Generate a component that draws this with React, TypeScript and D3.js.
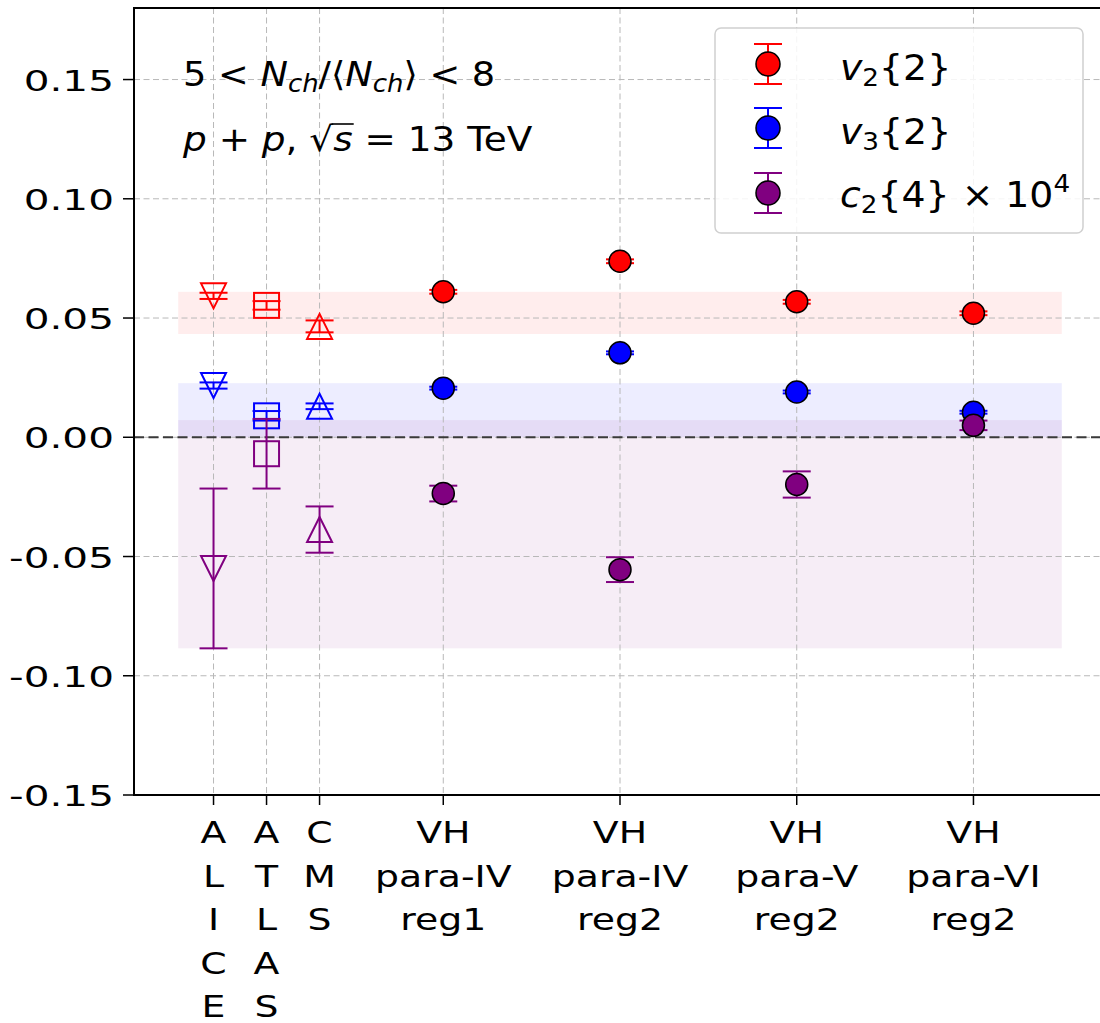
import React, { useLayoutEffect, useRef, useState } from "react";
import * as d3 from "d3";

// ---------- data ----------
const categoryLines: string[][] = [
  ["A", "L", "I", "C", "E"],
  ["A", "T", "L", "A", "S"],
  ["C", "M", "S"],
  ["VH", "para-IV", "reg1"],
  ["VH", "para-IV", "reg2"],
  ["VH", "para-V", "reg2"],
  ["VH", "para-VI", "reg2"],
];
const categoryX = [0, 0.3, 0.6, 1.3, 2.3, 3.3, 4.3];

const expX = [0, 0.3, 0.6];
const expMarkers = ["tri-down", "square", "tri-up"];
const expV2 = [0.0593, 0.0553, 0.0465];
const expV2Err = [0.0013, 0.0018, 0.0025];
const expV3 = [0.0217, 0.009, 0.013];
const expV3Err = [0.0013, 0.002, 0.0012];
const expC2 = [-0.055, -0.0069, -0.0387];
const expC2Err = [0.0335, 0.0146, 0.0097];

const vhX = [1.3, 2.3, 3.3, 4.3];
const vhV2 = [0.061, 0.0738, 0.0568, 0.052];
const vhV2Err = [0.0008, 0.0008, 0.0008, 0.0008];
const vhV3 = [0.0206, 0.0354, 0.019, 0.0105];
const vhV3Err = [0.0006, 0.0006, 0.0006, 0.0006];
const vhC2 = [-0.0236, -0.0555, -0.0198, 0.005];
const vhC2Err = [0.0033, 0.0052, 0.0055, 0.002];

const bandX = [-0.2, 4.8];
const bandV2 = [0.0433, 0.061];
const bandV3 = [0.0, 0.0227];
const bandC2 = [-0.0885, 0.0072];

const yTicks = [-0.15, -0.1, -0.05, 0.0, 0.05, 0.1, 0.15];

const seriesColors = { v2: "#ff0000", v3: "#0000ff", c2: "#800080" };

// ---------- layout ----------
const W = 1100;
const H = 1023;
const left = 134;
const top = 8;
const bottom = 795;
const right = 1106;

const x = d3.scaleLinear().domain([-0.45, 5.05]).range([left, right]);
const y = d3.scaleLinear().domain([-0.15, 0.18]).range([bottom, top]);
const fmt = d3
  .formatLocale({ decimal: ".", thousands: ",", grouping: [3], currency: ["", ""], minus: "-" })
  .format(".2f");

const FONT = "DejaVu Sans, sans-serif";

function Marker({ kind, cx, cy, color }: { kind: string; cx: number; cy: number; color: string }) {
  const s = 12.5;
  if (kind === "square") {
    return <rect x={cx - s} y={cy - s} width={2 * s} height={2 * s} fill="none" stroke={color} strokeWidth={2} />;
  }
  const p = d3.path();
  if (kind === "tri-down") {
    p.moveTo(cx - s, cy - s);
    p.lineTo(cx + s, cy - s);
    p.lineTo(cx, cy + s);
  } else {
    p.moveTo(cx, cy - s);
    p.lineTo(cx + s, cy + s);
    p.lineTo(cx - s, cy + s);
  }
  p.closePath();
  return <path d={p.toString()} fill="none" stroke={color} strokeWidth={2} strokeLinejoin="miter" />;
}

function ErrBar({ cx, v, e, color, cap = 14 }: { cx: number; v: number; e: number; color: string; cap?: number }) {
  const y1 = y(v - e);
  const y2 = y(v + e);
  return (
    <g stroke={color} strokeWidth={2}>
      <line x1={cx} x2={cx} y1={y1} y2={y2} />
      <line x1={cx - cap} x2={cx + cap} y1={y1} y2={y1} />
      <line x1={cx - cap} x2={cx + cap} y1={y2} y2={y2} />
    </g>
  );
}

export default function App() {
  const svgRef = useRef<SVGSVGElement>(null);
  const radRef = useRef<SVGTSpanElement>(null);
  const sRef = useRef<SVGTSpanElement>(null);
  const [bar, setBar] = useState<{ x1: number; x2: number } | null>(null);

  useLayoutEffect(() => {
    const measure = () => {
      if (!svgRef.current || !radRef.current || !sRef.current) return;
      const sv = svgRef.current.getBoundingClientRect();
      const r = radRef.current.getBoundingClientRect();
      const s = sRef.current.getBoundingClientRect();
      setBar({ x1: r.right - sv.left - 2, x2: s.right - sv.left + 1 });
    };
    measure();
    if ((document as any).fonts && (document as any).fonts.ready) {
      (document as any).fonts.ready.then(measure);
    }
  }, []);

  const series = [
    { key: "v2", vals: expV2, errs: expV2Err, mv: vhV2, me: vhV2Err },
    { key: "v3", vals: expV3, errs: expV3Err, mv: vhV3, me: vhV3Err },
    { key: "c2", vals: expC2, errs: expC2Err, mv: vhC2, me: vhC2Err },
  ] as const;

  const legendRows = [
    { key: "v2", my: 64 },
    { key: "v3", my: 128 },
    { key: "c2", my: 193 },
  ];

  return (
    <svg
      ref={svgRef}
      width={W}
      height={H}
      style={{ position: "absolute", left: 0, top: 0, background: "#fff" }}
      fontFamily={FONT}
    >
      <rect x={0} y={0} width={W} height={H} fill="#fff" />
      {/* bands */}
      {[
        { b: bandV2, c: seriesColors.v2 },
        { b: bandV3, c: seriesColors.v3 },
        { b: bandC2, c: seriesColors.c2 },
      ].map((d, i) => (
        <rect
          key={i}
          x={x(bandX[0])}
          width={x(bandX[1]) - x(bandX[0])}
          y={y(d.b[1])}
          height={y(d.b[0]) - y(d.b[1])}
          fill={d.c}
          fillOpacity={0.07}
        />
      ))}
      {/* grid */}
      <g stroke="#b8b8b8" strokeWidth={1} strokeDasharray="6,3.5">
        {categoryX.map((v, i) => (
          <line key={"gx" + i} x1={x(v)} x2={x(v)} y1={top} y2={bottom} />
        ))}
        {yTicks.map((v, i) => (
          <line key={"gy" + i} x1={left} x2={right} y1={y(v)} y2={y(v)} />
        ))}
      </g>
      {/* zero line */}
      <line x1={left} x2={right} y1={y(0)} y2={y(0)} stroke="#3a3a3a" strokeWidth={2} strokeDasharray="10,4.5" />

      {/* experimental points */}
      {series.map((s) =>
        expX.map((xv, i) => {
          const c = seriesColors[s.key];
          return (
            <g key={s.key + "e" + i}>
              <ErrBar cx={x(xv)} v={s.vals[i]} e={s.errs[i]} color={c} />
              <Marker kind={expMarkers[i]} cx={x(xv)} cy={y(s.vals[i])} color={c} />
            </g>
          );
        })
      )}
      {/* model points */}
      {series.map((s) =>
        vhX.map((xv, i) => {
          const c = seriesColors[s.key];
          return (
            <g key={s.key + "m" + i}>
              <ErrBar cx={x(xv)} v={s.mv[i]} e={s.me[i]} color={c} />
              <circle cx={x(xv)} cy={y(s.mv[i])} r={11} fill={c} stroke="#000" strokeWidth={1.5} />
            </g>
          );
        })
      )}

      {/* spines */}
      <g stroke="#000" strokeWidth={2} fill="none">
        <line x1={left} x2={left} y1={top - 1} y2={bottom + 1} />
        <line x1={left} x2={right} y1={bottom} y2={bottom} />
        <line x1={left} x2={right} y1={top} y2={top} />
      </g>
      {/* y ticks */}
      {yTicks.map((v, i) => (
        <g key={"yt" + i}>
          <line x1={left - 11} x2={left} y1={y(v)} y2={y(v)} stroke="#000" strokeWidth={1.5} />
          <text
            transform={`translate(114,${y(v) + 11}) scale(1.4,1)`}
            textAnchor="end"
            fontSize={29}
            fill="#000"
          >
            {fmt(v)}
          </text>
        </g>
      ))}
      {/* x ticks */}
      {categoryX.map((v, i) => (
        <g key={"xt" + i}>
          <line x1={x(v)} x2={x(v)} y1={bottom} y2={bottom + 10} stroke="#000" strokeWidth={1.5} />
          {categoryLines[i].map((ln, j) => (
            <text
              key={j}
              transform={`translate(${x(v)},${843 + j * 43.5}) scale(1.22,1)`}
              textAnchor="middle"
              fontSize={31}
              fill="#000"
            >
              {ln}
            </text>
          ))}
        </g>
      ))}

      {/* annotation */}
      <text transform="translate(183,86) scale(1.08,1)" fontSize={34} fill="#000">
        <tspan>5 &lt; </tspan>
        <tspan fontStyle="italic">N</tspan>
        <tspan fontStyle="italic" fontSize={24} dy={6}>
          ch
        </tspan>
        <tspan dy={-6}>/⟨</tspan>
        <tspan fontStyle="italic">N</tspan>
        <tspan fontStyle="italic" fontSize={24} dy={6}>
          ch
        </tspan>
        <tspan dy={-6}>⟩ &lt; 8</tspan>
      </text>
      <text transform="translate(183,151) scale(1.1,1)" fontSize={34} fill="#000">
        <tspan fontStyle="italic">p</tspan>
        <tspan> + </tspan>
        <tspan fontStyle="italic">p</tspan>
        <tspan>, </tspan>
        <tspan ref={radRef}>√</tspan>
        <tspan ref={sRef} fontStyle="italic">s</tspan>
        <tspan> = 13 TeV</tspan>
      </text>
      {bar && <line x1={bar.x1} x2={bar.x2} y1={124} y2={124} stroke="#000" strokeWidth={1.6} />}

      {/* legend */}
      <rect x={715} y={28} width={368} height={205} rx={6} fill="#fff" fillOpacity={0.85} stroke="#d0d0d0" strokeWidth={1.5} />
      {legendRows.map((r) => {
        const c = seriesColors[r.key as "v2" | "v3" | "c2"];
        return (
          <g key={r.key}>
            <g stroke={c} strokeWidth={2}>
              <line x1={768} x2={768} y1={r.my - 20} y2={r.my + 20} />
              <line x1={754} x2={782} y1={r.my - 20} y2={r.my - 20} />
              <line x1={754} x2={782} y1={r.my + 20} y2={r.my + 20} />
            </g>
            <circle cx={768} cy={r.my} r={12} fill={c} stroke="#000" strokeWidth={1.5} />
          </g>
        );
      })}
      <text transform="translate(840,80) scale(1.05,1)" fontSize={36} fill="#000">
        <tspan fontStyle="italic">v</tspan>
        <tspan fontSize={25} dy={6}>2</tspan>
        <tspan dy={-6}>{"{2}"}</tspan>
      </text>
      <text transform="translate(840,144) scale(1.05,1)" fontSize={36} fill="#000">
        <tspan fontStyle="italic">v</tspan>
        <tspan fontSize={25} dy={6}>3</tspan>
        <tspan dy={-6}>{"{2}"}</tspan>
      </text>
      <text transform="translate(840,207) scale(1.05,1)" fontSize={36} fill="#000">
        <tspan fontStyle="italic">c</tspan>
        <tspan fontSize={25} dy={6}>2</tspan>
        <tspan dy={-6}>{"{4} × 10"}</tspan>
        <tspan fontSize={25} dy={-15}>4</tspan>
      </text>
    </svg>
  );
}
